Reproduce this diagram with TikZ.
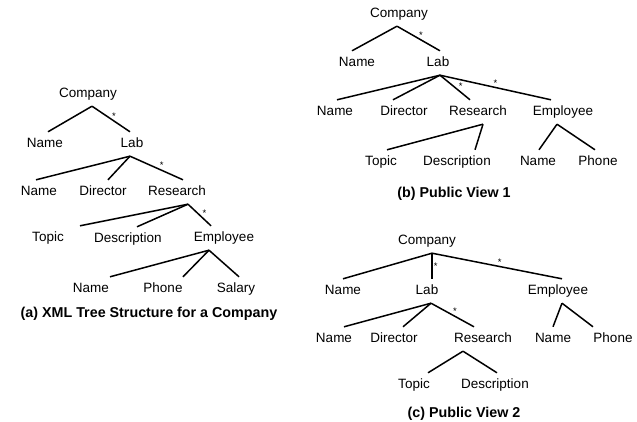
\documentclass[tikz,border=0pt]{standalone}
\usepackage{fontspec}
\setmainfont{Liberation Sans}
\usepackage{tikz}

\begin{document}
\begin{tikzpicture}[x=1pt, y=-1pt,
  lbl/.style={inner xsep=1pt, inner ysep=5.5pt, text height=10pt, text depth=3pt, font=\fontsize{13.5}{16}\selectfont},
  figcaption/.style={inner sep=0pt, font=\fontsize{14.3}{16}\selectfont\bfseries},
  starmark/.style={inner sep=1pt, font=\fontsize{9.5}{10}\selectfont},
  branch/.style={line width=1.5pt}]
  \useasboundingbox (0,0) rectangle (637,422);

  % (a) full tree
  \node[lbl] (aCo) at (88,94) {Company};
  \node[lbl] (aNm) at (45,144) {Name};
  \node[lbl] (aLab) at (132,144) {Lab};
  \node[lbl] (aNm2) at (39,192) {Name};
  \node[lbl] (aDir) at (103,192) {Director};
  \node[lbl] (aRes) at (177,192) {Research};
  \node[lbl] (aTop) at (48,238) {Topic};
  \node[lbl] (aDes) at (128,239) {Description};
  \node[lbl] (aEmp) at (224,238) {Employee};
  \node[lbl] (aNm3) at (91,289) {Name};
  \node[lbl] (aPh) at (163,289) {Phone};
  \node[lbl] (aSal) at (236,289) {Salary};
  \node[figcaption] (aCap) at (149,314) {(a) XML Tree Structure for a Company};

  \draw[branch] ([xshift=4pt]aCo.south) -- ([xshift=3pt]aNm.north);
  \draw[branch] ([xshift=4pt]aCo.south) -- node[starmark, pos=.58, above] (aS1) {*} ([xshift=-2pt]aLab.north);
  \draw[branch] ([xshift=-2pt]aLab.south) -- ([xshift=-3pt]aNm2.north);
  \draw[branch] ([xshift=-2pt]aLab.south) -- ([xshift=5pt]aDir.north);
  \draw[branch] ([xshift=-2pt]aLab.south) -- node[starmark, pos=.6, above] (aS2) {*} ([xshift=6pt]aRes.north);
  \draw[branch] ([xshift=11pt]aRes.south) -- ([xshift=32pt]aTop.north);
  \draw[branch] ([xshift=11pt]aRes.south) -- ([xshift=9pt]aDes.north);
  \draw[branch] ([xshift=11pt]aRes.south) -- node[starmark, pos=.6, above right=-1pt] (aS3) {*} ([xshift=-13pt]aEmp.north);
  \draw[branch] ([xshift=-15pt]aEmp.south) -- ([xshift=19pt]aNm3.north);
  \draw[branch] ([xshift=-15pt]aEmp.south) -- ([xshift=20pt]aPh.north);
  \draw[branch] ([xshift=-15pt]aEmp.south) -- ([xshift=3pt]aSal.north);

  % (b) public view 1
  \node[lbl] (bCo) at (399,14) {Company};
  \node[lbl] (bNm) at (357,63) {Name};
  \node[lbl] (bLab) at (438,63) {Lab};
  \node[lbl] (bNm2) at (335,112) {Name};
  \node[lbl] (bDir) at (404,112) {Director};
  \node[lbl] (bRes) at (478,112) {Research};
  \node[lbl] (bEmp) at (563,112) {Employee};
  \node[lbl] (bTop) at (381,162) {Topic};
  \node[lbl] (bDes) at (457,162) {Description};
  \node[lbl] (bNm3) at (538,162) {Name};
  \node[lbl] (bPh) at (598,162) {Phone};
  \node[figcaption] (bCap) at (454,194) {(b) Public View 1};

  \draw[branch] ([xshift=-2pt]bCo.south) -- ([xshift=-5pt]bNm.north);
  \draw[branch] ([xshift=-2pt]bCo.south) -- node[starmark, pos=.56, above] (bS1) {*} ([xshift=2pt]bLab.north);
  \draw[branch] ([xshift=2pt]bLab.south) -- ([xshift=2pt]bNm2.north);
  \draw[branch] ([xshift=2pt]bLab.south) -- ([xshift=-11pt]bDir.north);
  \draw[branch] ([xshift=2pt]bLab.south) -- node[starmark, pos=.6, above right=-1pt] (bS2) {*} ([xshift=-8pt]bRes.north);
  \draw[branch] ([xshift=2pt]bLab.south) -- node[starmark, pos=.5, above=-1pt] (bS3) {*} ([xshift=-12pt]bEmp.north);
  \draw[branch] ([xshift=5pt]bRes.south) -- ([xshift=6pt]bTop.north);
  \draw[branch] ([xshift=5pt]bRes.south) -- ([xshift=18pt]bDes.north);
  \draw[branch] ([xshift=-6pt]bEmp.south) -- ([xshift=1pt]bNm3.north);
  \draw[branch] ([xshift=-6pt]bEmp.south) -- ([xshift=-3pt]bPh.north);

  % (c) public view 2
  \node[lbl] (cCo) at (427,241) {Company};
  \node[lbl] (cNm) at (343,291) {Name};
  \node[lbl] (cLab) at (427,291) {Lab};
  \node[lbl] (cEmp) at (558,291) {Employee};
  \node[lbl] (cNm2) at (334,339) {Name};
  \node[lbl] (cDir) at (394,339) {Director};
  \node[lbl] (cRes) at (483,339) {Research};
  \node[lbl] (cNm3) at (553,339) {Name};
  \node[lbl] (cPh) at (613,339) {Phone};
  \node[lbl] (cTop) at (414,385) {Topic};
  \node[lbl] (cDes) at (495,385) {Description};
  \node[figcaption] (cCap) at (464,414) {(c) Public View 2};

  \draw[branch] ([xshift=5pt]cCo.south) -- (cNm.north);
  \draw[branch] ([xshift=5pt]cCo.south) -- node[starmark, pos=.5, right] (cS1) {*} ([xshift=5pt]cLab.north);
  \draw[branch] ([xshift=5pt]cCo.south) -- node[starmark, pos=.52, above=-1pt] (cS2) {*} ([xshift=4pt]cEmp.north);
  \draw[branch] ([xshift=4pt]cLab.south) -- ([xshift=10pt]cNm2.north);
  \draw[branch] ([xshift=4pt]cLab.south) -- ([xshift=9pt]cDir.north);
  \draw[branch] ([xshift=4pt]cLab.south) -- node[starmark, pos=.56, above] (cS3) {*} ([xshift=-9pt]cRes.north);
  \draw[branch] ([xshift=4pt]cEmp.south) -- (cNm3.north);
  \draw[branch] ([xshift=4pt]cEmp.south) -- ([xshift=-20pt]cPh.north);
  \draw[branch] ([xshift=-20pt]cRes.south) -- ([xshift=14pt]cTop.north);
  \draw[branch] ([xshift=-20pt]cRes.south) -- ([xshift=2pt]cDes.north);
\end{tikzpicture}
\end{document}
